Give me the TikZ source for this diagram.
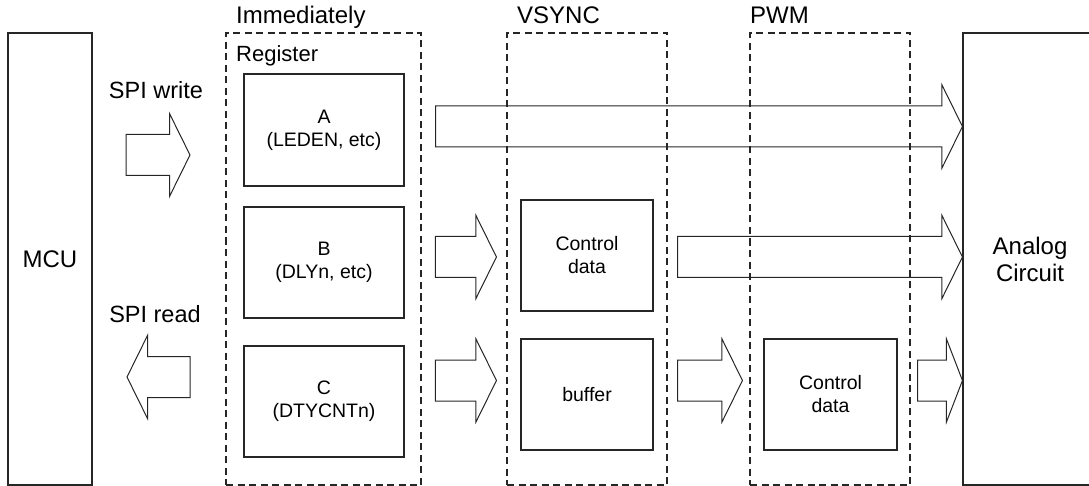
\documentclass[tikz,border=0pt]{standalone}
\usepackage{fontspec}
\setmainfont{Liberation Sans}
\usetikzlibrary{calc}

% right-pointing block arrow: start point, tip point (tip's y is used), head length
\newcommand\rblock[3][20.5pt]{%
  \draw[blockarrow] let \p1=#2, \p2=#3 in
    (\x1,\y2+20.5pt) -- (\x2-#1,\y2+20.5pt) -- (\x2-#1,\y2+41.5pt) -- (\x2,\y2)
    -- (\x2-#1,\y2-41.5pt) -- (\x2-#1,\y2-20.5pt) -- (\x1,\y2-20.5pt) -- cycle;}
% left-pointing block arrow
\newcommand\lblock[3][20.5pt]{%
  \draw[blockarrow] let \p1=#2, \p2=#3 in
    (\x1,\y2+20.5pt) -- (\x2+#1,\y2+20.5pt) -- (\x2+#1,\y2+41.5pt) -- (\x2,\y2)
    -- (\x2+#1,\y2-41.5pt) -- (\x2+#1,\y2-20.5pt) -- (\x1,\y2-20.5pt) -- cycle;}

\begin{document}
\begin{tikzpicture}[x=1pt,y=-1pt,
  ink/.style={draw=black!85, line width=1.1pt},
  unitbox/.style={ink, rectangle, inner sep=0pt},
  regbox/.style={unitbox, align=center, font=\fontsize{19.5}{23}\selectfont},
  stage/.style={draw=black!85, line width=1.1pt, dash pattern=on 7pt off 4.5pt, rectangle, inner sep=0pt},
  biglabel/.style={font=\fontsize{24}{27}\selectfont, inner sep=0pt},
  blockarrow/.style={draw=black!85, line width=1pt, line join=miter}]
\useasboundingbox (0,0) rectangle (1089,486);

% outer blocks
\node[unitbox, minimum width=84pt, minimum height=452pt] (mcu) at (50,259) {};
\node[biglabel] at (mcu.center) {MCU};
\node[unitbox, minimum width=127pt, minimum height=452pt] (analog) at (1026.5,259) {};
\node[biglabel, align=center] at ($(analog.center)+(3.5,0)$) {Analog\\Circuit};

% timing stages
\node[stage, minimum width=195pt, minimum height=452pt] (imm) at (323.5,259) {};
\node[stage, minimum width=160pt, minimum height=452pt] (vs) at (587,259) {};
\node[stage, minimum width=160pt, minimum height=452pt] (pwm) at (830,259) {};
\node[biglabel, anchor=base west] at (236,24) {Immediately};
\node[biglabel, anchor=base west] at (517,24) {VSYNC};
\node[biglabel, anchor=base west] at (750,24) {PWM};
\node[inner sep=0pt, font=\fontsize{22}{26}\selectfont, anchor=base west] at (236,62) {Register};

% registers
\node[regbox, minimum width=160pt, minimum height=112pt] (A) at (324,130) {A\\(LEDEN, etc)};
\node[regbox, minimum width=160pt, minimum height=111pt] (B) at (324,262.5) {B\\(DLYn, etc)};
\node[regbox, minimum width=160pt, minimum height=111pt] (C) at (324,401.5) {C\\(DTYCNTn)};

% VSYNC and PWM latches
\node[regbox, minimum width=132pt, minimum height=111pt] (ctrl) at (587,255.5) {Control\\data};
\node[regbox, minimum width=132pt, minimum height=111pt] (buf) at (587,394.5) {buffer};
\node[regbox, minimum width=133pt, minimum height=111pt] (pctrl) at (830.5,394.5) {Control\\data};

% SPI access
\node[biglabel, font=\fontsize{23.5}{27}\selectfont, anchor=base] at (156,98.5) {SPI write};
\node[biglabel, font=\fontsize{23.5}{27}\selectfont, anchor=base] at (155,322) {SPI read};
\coordinate (wstart) at (126,155);
\coordinate (wtip) at (190,155);
\coordinate (rstart) at (190,377);
\coordinate (rtip) at (127,377);
\rblock{(wstart)}{(wtip)}
\lblock{(rstart)}{(rtip)}

% data paths
\rblock{($(A.east)+(31,-3.5)$)}{($(A.east -| analog.west)+(0,-3.5)$)}
\rblock{($(ctrl.west)+(-85,1.5)$)}{($(ctrl.west)+(-24,1.5)$)}
\rblock{($(ctrl.east)+(24,1.5)$)}{($(ctrl.east -| analog.west)+(0,1.5)$)}
\rblock{($(buf.west)+(-85,-14)$)}{($(buf.west)+(-24,-14)$)}
\rblock{($(buf.east)+(24,-14)$)}{($(pctrl.west)+(-21,-14)$)}
\rblock[16pt]{($(pctrl.east)+(20,-14)$)}{($(pctrl.east -| analog.west)+(0,-14)$)}
\end{tikzpicture}
\end{document}
